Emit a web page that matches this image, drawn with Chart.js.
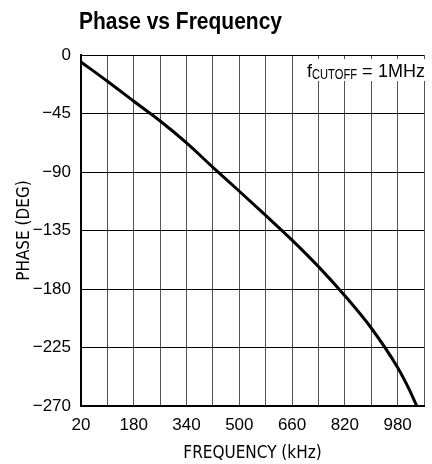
<!DOCTYPE html>
<html>
<head>
<meta charset="utf-8">
<script src="https://cdn.jsdelivr.net/npm/chart.js@4"></script>
<style>
  html, body { margin: 0; padding: 0; background: #fff; overflow: hidden; }
  #wrap { position: relative; width: 433px; height: 464px; }
</style>
</head>
<body>
<div id="wrap"><canvas id="phaseChart" width="433" height="464"></canvas></div>
<script>
// values
const freqKHz = [20, 100, 180, 260, 340, 420, 500, 580, 660, 740, 820, 900, 980, 1014, 1038];
const phaseDeg = [-5.4, -20.2, -35.6, -50.8, -67.6, -86.4, -104.8, -123.4, -142.4, -162.8, -185.2, -210, -240.4, -256.7, -270];
const xLabels = [20, 180, 340, 500, 660, 820, 980];
const yTicks = [0, -45, -90, -135, -180, -225, -270];

const TICK_FONT = '"Liberation Sans", Arial, sans-serif';
const TITLE_FONT = '"DejaVu Sans Condensed", "Liberation Sans", sans-serif';

// draw text squeezed horizontally to a given width (condensed look)
function squeezeText(ctx, text, x, y, width) {
    const w = ctx.measureText(text).width;
    const k = Math.min(1, width / w);
    ctx.save();
    ctx.translate(x, y);
    ctx.scale(k, 1);
    ctx.fillText(text, 0, 0);
    ctx.restore();
}

const textPlugin = {
    id: 'textPlugin',
    afterDraw(chart) {
        const ctx = chart.ctx;
        const a = chart.chartArea;
        ctx.save();
        ctx.fillStyle = '#000';
        ctx.textBaseline = 'alphabetic';
        ctx.textAlign = 'left';
        // title
        ctx.font = 'bold 23px ' + TICK_FONT;
        squeezeText(ctx, 'Phase vs Frequency', a.left - 2, 29, 203);
        // cutoff note with white box over the grid
        ctx.fillStyle = '#fff';
        ctx.fillRect(303, 59, 126, 22);
        ctx.fillStyle = '#000';
        ctx.font = '18px ' + TICK_FONT;
        ctx.fillText('f', 307, 77);
        ctx.fillText('=', 362, 77);
        ctx.fillText('1MHz', 378, 77);
        ctx.font = '14px ' + TICK_FONT;
        squeezeText(ctx, 'CUTOFF', 312, 79, 45);
        ctx.restore();
    }
};

document.addEventListener('DOMContentLoaded', function () {
    const ctx = document.getElementById('phaseChart');
    new Chart(ctx.getContext('2d'), {
        type: 'scatter',
        data: {
            datasets: [{
                data: freqKHz.map((f, i) => ({ x: f, y: phaseDeg[i] })),
                showLine: true,
                borderColor: '#000',
                borderWidth: 3,
                pointRadius: 0,
                cubicInterpolationMode: 'monotone',
                fill: false
            }]
        },
        options: {
            responsive: false,
            animation: false,
            plugins: { legend: { display: false }, tooltip: { enabled: false } },
            layout: { padding: { left: 0, right: 0, top: 55, bottom: 0 } },
            scales: {
                x: {
                    type: 'linear',
                    min: 20, max: 1060,
                    afterFit: s => { s.height = 58; },
                    grid: { color: '#555', lineWidth: 1, drawTicks: false },
                    border: { color: '#000', width: 2 },
                    ticks: {
                        stepSize: 80,
                        autoSkip: false,
                        maxRotation: 0,
                        padding: 9,
                        color: '#000',
                        font: { size: 17, family: TICK_FONT },
                        callback: v => xLabels.includes(v) ? String(v) : ''
                    },
                    title: {
                        display: true,
                        text: 'FREQUENCY (kHz)',
                        color: '#000',
                        font: { size: 17, family: TITLE_FONT },
                        padding: { top: 0, bottom: 0 }
                    }
                },
                y: {
                    min: -270, max: 0,
                    afterFit: s => { s.width = 81; },
                    grid: { color: '#000', lineWidth: 1, drawTicks: false },
                    border: { color: '#000', width: 2 },
                    ticks: {
                        stepSize: 45,
                        padding: 10,
                        color: '#000',
                        font: { size: 17, family: TICK_FONT },
                        callback: v => yTicks.includes(v) ? (v === 0 ? '0' : '\u2212' + Math.abs(v)) : ''
                    },
                    title: {
                        display: true,
                        text: 'PHASE (DEG)',
                        color: '#000',
                        font: { size: 17, family: TITLE_FONT },
                        padding: { top: 14, bottom: 0 }
                    }
                }
            }
        },
        plugins: [textPlugin]
    });
});
</script>
</body>
</html>
